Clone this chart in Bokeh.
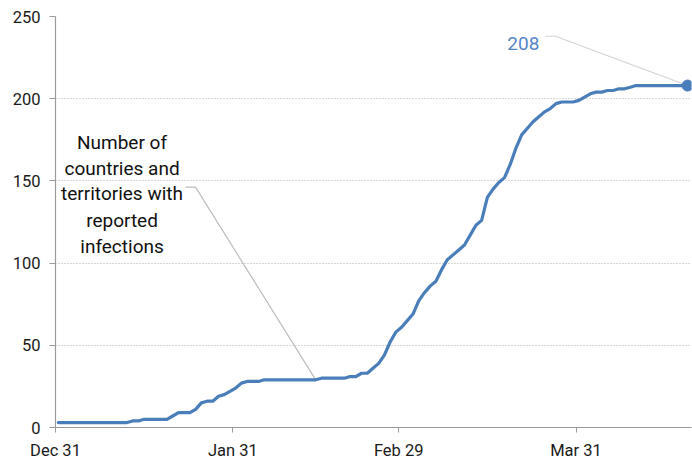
from bokeh.plotting import figure
from bokeh.models import FixedTicker, Range1d
from bokeh.embed import file_html
from bokeh.resources import INLINE
from bokeh.core.properties import value

# ---- data ----
day_index = list(range(111))  # days since Dec 31 (Dec 31 .. Apr 19)
countries = (
    [3] * 13
    + [4, 4, 5, 5, 5, 5, 5, 7, 9, 9, 9, 11, 15, 16, 16, 19, 20, 22, 24, 27, 28, 28, 28]
    + [29] * 10
    + [30] * 5
    + [31, 31, 33, 33, 36, 39, 44, 52, 58, 61, 65, 69, 77, 82, 86, 89, 96, 102, 105, 108,
       111, 117, 123, 126, 140, 145, 149, 152, 160, 170, 178, 182, 186, 189, 192, 194, 197,
       198, 198, 198, 199, 201, 203, 204, 204, 205, 205, 206, 206, 207]
    + [208] * 10
)
tick_days = [0, 31, 60, 91]
tick_labels = ["Dec 31", "Jan 31", "Feb 29", "Mar 31"]
y_ticks = [0, 50, 100, 150, 200, 250]
note_lines = ["Number of", "countries and", "territories with", "reported", "infections"]
note_day = 45  # leader points at this day's value

FONT = "Roboto"
LINE_COLOR = "#4a7ebb"

xs = [d + 0.5 for d in day_index]  # points sit mid-day

p = figure(width=692, height=462, output_backend="svg", toolbar_location=None,
           x_range=Range1d(0, 111.19), y_range=Range1d(0, 250),
           min_border_left=55, min_border_right=1, min_border_top=16, min_border_bottom=34)
p.outline_line_color = None
p.background_fill_color = "white"

# axes
for ax in (p.xaxis, p.yaxis):
    ax.axis_line_color = "#9a9a9a"
    ax.axis_line_width = 1.2
    ax.major_tick_line_color = "#9a9a9a"
    ax.major_tick_in = 0
    ax.minor_tick_line_color = None
    ax.major_label_text_font = FONT
    ax.major_label_text_font_size = "16.5px"
    ax.major_label_text_color = "#1a1a1a"

p.xaxis.ticker = FixedTicker(ticks=tick_days)
p.xaxis.major_label_overrides = {d: lab for d, lab in zip(tick_days, tick_labels)}
p.xaxis.major_tick_out = 5
p.xaxis.major_label_standoff = 8
p.yaxis.ticker = FixedTicker(ticks=y_ticks)
p.yaxis.major_tick_out = 6
p.yaxis.major_label_standoff = 9

p.xgrid.grid_line_color = None
p.ygrid.grid_line_color = "#b0b0b0"
p.ygrid.grid_line_dash = "1 2"
p.ygrid.grid_line_width = 1

# annotation leader lines (drawn beneath the series)
tx, ty = xs[note_day], countries[note_day]
p.line([22.73, 24.48, tx], [146.2, 146.2, ty], line_color="#bdbdbd", line_width=1.2)
lx, ly = xs[-1], countries[-1]
p.line([85.66, 87.41, lx], [238.0, 238.0, ly], line_color="#d3d3d3", line_width=1.2)

# series
p.line(xs, countries, line_color=LINE_COLOR, line_width=3.2, line_join="round", line_cap="round")
p.scatter([lx], [ly], size=11, color=LINE_COLOR)

# texts
p.text(x=[11.63] * len(note_lines), y=[173.1, 157.6, 142.4, 126.2, 110.4], text=note_lines,
       text_align="center", text_baseline="alphabetic", text_font=value(FONT),
       text_font_size="19px", text_color="#111111")
p.text(x=[84.6], y=[233.4], text=[str(countries[-1])], text_align="right",
       text_baseline="alphabetic", text_font=value(FONT), text_font_size="19px",
       text_color="#5585c8")

open("out.html", "w").write(file_html(p, INLINE))
